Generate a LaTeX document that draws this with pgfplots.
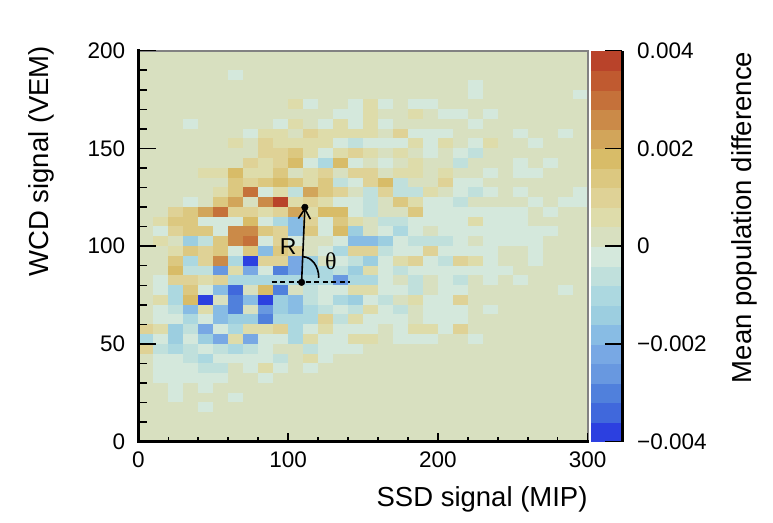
\documentclass[border=0pt]{standalone}
\usepackage{pgfplots}
\pgfplotsset{compat=1.18}
\usepackage{pgfplotstable}
\usetikzlibrary{arrows.meta}
\usepackage{fontspec}
\setmainfont{Liberation Sans}
\newfontfamily\serifth{Liberation Serif}

\pgfplotsset{
 colormap={roo}{
  rgb255(0pt)=(44,64,224)
  rgb255(1pt)=(64,104,220)
  rgb255(2pt)=(80,128,220)
  rgb255(3pt)=(104,152,224)
  rgb255(4pt)=(120,168,228)
  rgb255(5pt)=(136,188,228)
  rgb255(6pt)=(156,206,224)
  rgb255(7pt)=(172,216,224)
  rgb255(8pt)=(192,224,220)
  rgb255(9pt)=(212,232,220)
  rgb255(10pt)=(216,224,192)
  rgb255(11pt)=(222,220,170)
  rgb255(12pt)=(223,210,150)
  rgb255(13pt)=(220,200,128)
  rgb255(14pt)=(216,188,104)
  rgb255(15pt)=(210,165,90)
  rgb255(16pt)=(203,138,72)
  rgb255(17pt)=(197,113,58)
  rgb255(18pt)=(192,90,48)
  rgb255(19pt)=(185,67,42)
  rgb255(20pt)=(185,67,42)
 }
}

% level index per cell: 0 = -0.004..-0.0036 (deep blue), 10 = 0..0.0004, 19 = 0.0036..0.004
\pgfplotstableread{
y c0 c1 c2 c3 c4 c5 c6 c7 c8 c9 c10 c11 c12 c13 c14 c15 c16 c17 c18 c19 c20 c21 c22 c23 c24 c25 c26 c27 c28 c29
197.5 10 10 10 10 10 10 10 10 10 10 10 10 10 10 10 10 10 10 10 10 10 10 10 10 10 10 10 10 10 10
192.5 10 10 10 10 10 10 10 10 10 10 10 10 10 10 10 10 10 10 10 10 10 10 10 10 10 10 10 10 10 10
187.5 10 10 10 10 10 10 9 10 10 10 10 10 10 10 10 10 10 10 10 10 10 10 10 10 10 10 10 10 10 10
182.5 10 10 10 10 10 10 10 10 10 10 10 10 10 10 10 10 10 10 10 10 10 10 9 10 10 10 10 10 10 10
177.5 10 10 10 10 10 10 10 10 10 10 10 10 10 10 10 10 10 10 10 10 10 10 9 10 10 10 10 10 10 9
172.5 10 10 10 10 10 10 10 10 10 10 11 9 10 10 9 11 9 10 9 9 10 10 10 10 10 10 10 10 10 10
167.5 10 10 10 10 10 10 10 10 10 10 10 10 10 9 9 11 10 10 11 10 9 9 10 9 10 10 10 10 10 10
162.5 10 10 10 9 10 10 10 10 10 9 11 10 9 11 9 11 9 10 10 10 10 10 9 10 10 10 10 10 10 10
157.5 10 10 10 10 10 10 10 9 11 11 10 12 11 11 11 11 10 12 9 9 9 10 10 10 10 9 10 10 9 10
152.5 10 10 10 10 10 10 11 10 12 11 11 11 11 9 8 9 9 9 11 9 11 10 9 11 10 10 9 10 10 10
147.5 10 10 10 10 10 10 10 10 12 12 13 11 9 11 12 11 10 11 10 9 10 9 8 10 10 10 10 10 10 10
142.5 10 10 10 10 10 10 10 12 11 12 14 9 7 14 9 10 9 10 11 10 10 8 10 10 10 9 10 9 10 10
137.5 10 10 10 10 11 11 14 11 11 13 10 11 12 10 12 12 10 11 11 10 11 10 10 9 10 9 9 10 10 10
132.5 10 10 10 10 10 10 13 12 13 14 13 11 13 8 9 12 14 8 10 10 12 9 9 10 10 10 10 10 10 10
127.5 10 10 10 10 10 11 13 17 9 11 8 15 13 12 10 8 12 8 8 11 10 9 8 9 10 9 10 10 10 9
122.5 10 10 10 9 10 13 15 10 16 19 11 12 11 9 9 8 10 13 11 9 9 8 10 10 10 10 9 10 9 9
117.5 10 10 12 13 15 17 12 12 11 12 15 11 14 14 9 8 10 10 13 9 9 9 9 9 9 9 10 9 10 10
112.5 10 11 13 13 9 9 9 14 9 7 5 12 9 13 11 10 8 8 9 9 9 9 11 9 9 9 10 10 10 10
107.5 10 9 12 13 13 9 16 16 13 12 5 13 9 14 6 10 9 7 9 10 9 9 9 9 9 9 9 9 10 10
102.5 10 11 10 6 8 13 16 17 9 12 9 10 10 9 5 5 6 9 8 8 8 9 10 9 9 9 9 10 10 10
97.5 10 10 11 13 12 13 9 13 5 13 12 10 9 7 12 12 8 9 9 12 9 9 9 9 10 10 9 10 10 10
92.5 10 10 13 7 12 16 7 0 12 12 4 6 10 9 8 6 9 11 12 9 8 12 11 9 10 10 9 10 10 10
87.5 10 10 14 8 8 3 11 4 9 2 4 6 7 8 6 11 9 8 9 9 9 9 9 9 9 10 10 10 10 10
82.5 10 9 12 12 11 12 7 7 7 7 7 7 7 3 7 7 9 10 8 10 9 8 10 9 10 9 10 10 10 10
77.5 10 9 7 13 9 5 1 10 14 2 10 8 9 9 11 11 9 9 8 10 9 9 10 10 10 10 10 10 9 10
72.5 10 11 7 14 0 10 2 5 0 6 5 8 9 7 6 9 8 10 11 9 9 12 10 10 10 10 10 10 10 10
67.5 10 9 8 5 11 5 2 10 3 6 5 7 8 9 8 11 9 8 10 9 9 9 10 9 10 10 10 10 10 10
62.5 10 9 9 7 9 5 6 6 2 7 7 7 12 8 11 9 9 9 10 9 9 9 10 10 10 10 10 10 10 10
57.5 12 11 6 8 4 9 7 11 11 12 7 9 11 9 9 9 10 9 11 11 9 12 10 10 10 10 10 10 10 10
52.5 7 9 6 9 6 4 11 4 9 9 7 11 9 9 11 11 10 9 9 9 10 10 9 10 10 10 10 10 10 10
47.5 12 8 7 8 9 8 7 8 9 10 10 8 9 9 9 10 10 10 10 10 10 10 10 10 10 10 10 10 10 10
42.5 10 9 9 8 7 9 9 9 9 8 10 11 9 10 10 10 10 10 10 10 10 10 10 10 10 10 10 10 10 10
37.5 10 9 9 9 8 8 10 9 11 9 10 9 10 10 10 10 10 10 10 10 10 10 10 10 10 10 10 10 10 10
32.5 10 9 9 9 9 9 10 10 9 10 10 10 10 10 10 10 10 10 10 10 10 10 10 10 10 10 10 10 10 10
27.5 10 10 9 10 9 10 10 10 10 10 10 10 10 10 10 10 10 10 10 10 10 10 10 10 10 10 10 10 10 10
22.5 10 10 9 10 10 10 9 10 10 10 10 10 10 10 10 10 10 10 10 10 10 10 10 10 10 10 10 10 10 10
17.5 10 10 10 10 9 10 10 10 10 10 10 10 10 10 10 10 10 10 10 10 10 10 10 10 10 10 10 10 10 10
12.5 10 10 10 10 10 10 10 10 10 10 10 10 10 10 10 10 10 10 10 10 10 10 10 10 10 10 10 10 10 10
7.5 10 10 10 10 10 10 10 10 10 10 10 10 10 10 10 10 10 10 10 10 10 10 10 10 10 10 10 10 10 10
2.5 10 10 10 10 10 10 10 10 10 10 10 10 10 10 10 10 10 10 10 10 10 10 10 10 10 10 10 10 10 10
}\grid

\begin{document}
\begin{tikzpicture}
\begin{axis}[
  at={(0,0)}, anchor=south west,
  scale only axis, width=449.4pt, height=391pt,
  xmin=0, xmax=300, ymin=0, ymax=200,
  clip=false, clip marker paths=true,
  axis on top,
  axis x line*=bottom, axis y line*=left,
  axis line style={line width=2.8pt, black},
  tick align=inside,
  major tick length=8.5pt, minor tick length=4.25pt,
  tick style={line width=1.5pt, black},
  xtick={0,100,200,300}, xticklabels={0,100,200,300}, minor x tick num=4,
  ytick={0,10,...,200}, yticklabels={},
  extra y ticks={0,50,100,150,200},
  extra y tick labels={0,50,100,150,200},
  extra y tick style={major tick length=18pt},
  tick label style={font=\fontsize{22.5}{27}\selectfont},
  xticklabel style={anchor=north, inner sep=0pt, yshift=-10pt},
  yticklabel style={anchor=east, inner sep=0pt, xshift=-13pt},
  colormap name=roo, colormap access=piecewise constant,
  point meta min=0, point meta max=20,
  colorbar right,
  colorbar style={
    at={(parent axis.north east)}, anchor=north west, xshift=-5.2pt,
    scale only axis, width=31pt, height=391pt,
    axis x line=none, axis y line*=right,
    y axis line style={line width=2.4pt, black},
    ytick={0,5,10,15,20},
    yticklabels={−0.004,−0.002,0,0.002,0.004},
    yticklabel pos=right,
    tick align=inside, major tick length=17pt,
    tick style={line width=1.5pt, black},
    minor y tick num=0,
    yticklabel style={anchor=west, inner sep=0pt, xshift=15pt, font=\fontsize{22.5}{27}\selectfont},
  },
]
\pgfplotsinvokeforeach{0,...,29}{
  \addplot[scatter, only marks, mark=square*, mark size=1pt,
    point meta=explicit,
    scatter/use mapped color={draw=mapped color, fill=mapped color},
    mark options={xscale=7.53, yscale=4.93, line width=0.3pt}]
    table[x expr={#1*10+5}, y=y, meta expr={\thisrow{c#1}+0.5}] {\grid};
}
% annotation
\addplot[black, line width=1.8pt, dash pattern=on 5pt off 3.5pt] coordinates {(89,81.5) (141,81.5)};
\addplot[black, line width=1.6pt, -{Straight Barb[length=10pt,width=12pt]}] coordinates {(109,81.5) (111.2,119.9)};
\addplot[black, only marks, mark=*, mark size=3.3pt] coordinates {(109,81.5) (111.2,119.9)};
\draw[black, line width=1.6pt] (axis cs:109.8,94.6) arc[start angle=90, end angle=0, x radius=16pt, y radius=21pt];
\node[font=\fontsize{23}{27}\selectfont] at (axis cs:100.1,99.7) {R};
\node[font=\serifth\fontsize{24}{28}\selectfont] at (axis cs:128.5,92.1) {θ};
% frame: grey top and right, black left and bottom, black right edge of the palette
\addplot[color={rgb,255:red,130;green,130;blue,130}, line width=2.2pt] coordinates {(0,200) (300,200) (300,0)};
\addplot[black, line width=3pt, line cap=rect] coordinates {(0,200) (0,0) (300,0)};
\addplot[black, line width=2.4pt] coordinates {(323.1,0) (323.1,200)};
\end{axis}
\node[anchor=base east, font=\fontsize{27.5}{33}\selectfont, inner sep=0pt] at (449.4pt,-65pt) {SSD signal (MIP)};
\node[rotate=90, anchor=base east, font=\fontsize{27.5}{33}\selectfont, inner sep=0pt] at (-90pt,396pt) {WCD signal (VEM)};
\node[rotate=90, anchor=base east, font=\fontsize{27.5}{33}\selectfont, inner sep=0pt] at (613.4pt,390pt) {Mean population difference};
\path (-138.3pt,-80.3pt) rectangle (634.7pt,441.7pt);
\end{tikzpicture}
\end{document}
